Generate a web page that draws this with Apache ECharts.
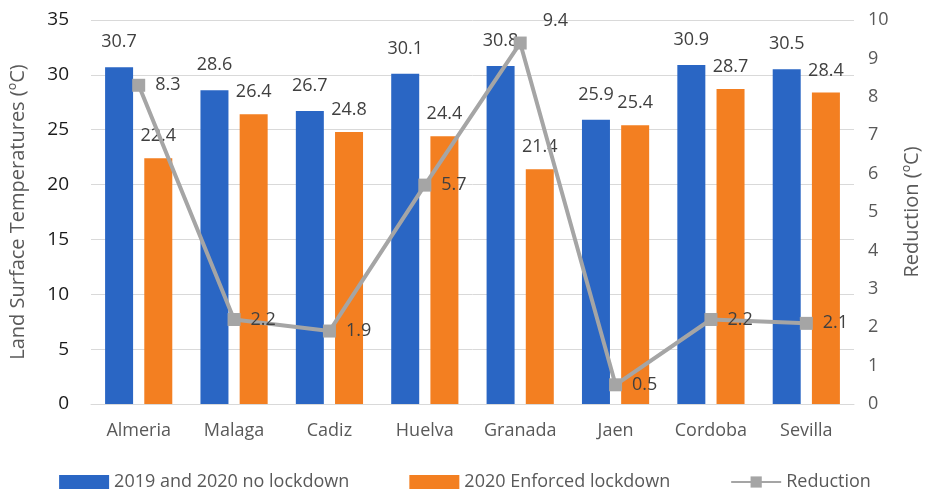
<!DOCTYPE html>
<html>
<head>
<meta charset="utf-8">
<script src="https://cdn.jsdelivr.net/npm/echarts@6/dist/echarts.min.js"></script>
<style>
  html, body { margin: 0; padding: 0; background: #fff; }
  #main { width: 930px; height: 496px; }
</style>
</head>
<body>
<div id="main"></div>
<script>
var cities = ['Almeria', 'Malaga', 'Cadiz', 'Huelva', 'Granada', 'Jaen', 'Cordoba', 'Sevilla'];
var noLockdown = [30.7, 28.6, 26.7, 30.1, 30.8, 25.9, 30.9, 30.5];
var lockdown = [22.4, 26.4, 24.8, 24.4, 21.4, 25.4, 28.7, 28.4];
var reduction = [8.3, 2.2, 1.9, 5.7, 9.4, 0.5, 2.2, 2.1];

var myChart = echarts.init(document.getElementById('main'));
var txt = '#595959';
var fontFam = '"Open Sans", sans-serif';
var fs = 18;

var option = {
    textStyle: { fontFamily: fontFam },
    grid: { left: 88, right: 68, top: 20, bottom: 92 },
    legend: {
        bottom: 0,
        left: 'center',
        itemWidth: 50,
        itemHeight: 14,
        itemGap: 60,
        textStyle: { color: txt, fontSize: fs, fontFamily: fontFam },
        data: [
            { name: '2019 and 2020 no lockdown', icon: 'rect' },
            { name: '2020 Enforced lockdown', icon: 'rect' },
            { name: 'Reduction' }
        ]
    },
    xAxis: {
        type: 'category',
        data: cities,
        axisLine: { lineStyle: { color: '#d9d9d9' } },
        axisTick: { show: false },
        axisLabel: { color: txt, fontSize: fs, margin: 18, interval: 0 }
    },
    yAxis: [
        {
            type: 'value',
            min: 0, max: 35, interval: 5,
            name: 'Land Surface Temperatures (ºC)',
            nameLocation: 'middle',
            nameGap: 63,
            nameTextStyle: { color: txt, fontSize: 20 },
            axisLabel: { color: '#1a1a1a', fontSize: 19, margin: 22 },
            splitLine: { lineStyle: { color: '#d9d9d9' } }
        },
        {
            type: 'value',
            min: 0, max: 10, interval: 1,
            name: 'Reduction (ºC)',
            nameLocation: 'middle',
            nameGap: 48,
            nameRotate: 90,
            nameTextStyle: { color: txt, fontSize: 20 },
            axisLabel: { color: txt, fontSize: fs, margin: 14 },
            splitLine: { show: false }
        }
    ],
    series: [
        {
            name: '2019 and 2020 no lockdown',
            type: 'bar',
            data: noLockdown,
            barWidth: 28,
            barGap: '40%',
            itemStyle: { color: '#2a66c4' },
            label: { show: true, position: 'top', distance: 16, color: '#404040', fontSize: fs }
        },
        {
            name: '2020 Enforced lockdown',
            type: 'bar',
            data: lockdown,
            barWidth: 28,
            barGap: '40%',
            itemStyle: { color: '#f37f21' },
            label: { show: true, position: 'top', distance: 13, color: '#404040', fontSize: fs }
        },
        {
            name: 'Reduction',
            type: 'line',
            yAxisIndex: 1,
            data: reduction.map(function (v, i) {
                if (i === 4) {
                    return { value: v, label: { position: 'right', offset: [6, -22] } };
                }
                return v;
            }),
            symbol: 'rect',
            symbolSize: 13,
            lineStyle: { color: '#a5a5a5', width: 4 },
            itemStyle: { color: '#a5a5a5' },
            label: { show: true, position: 'right', distance: 10, color: '#404040', fontSize: fs },
            z: 5
        }
    ]
};
myChart.setOption(option);
</script>
</body>
</html>
